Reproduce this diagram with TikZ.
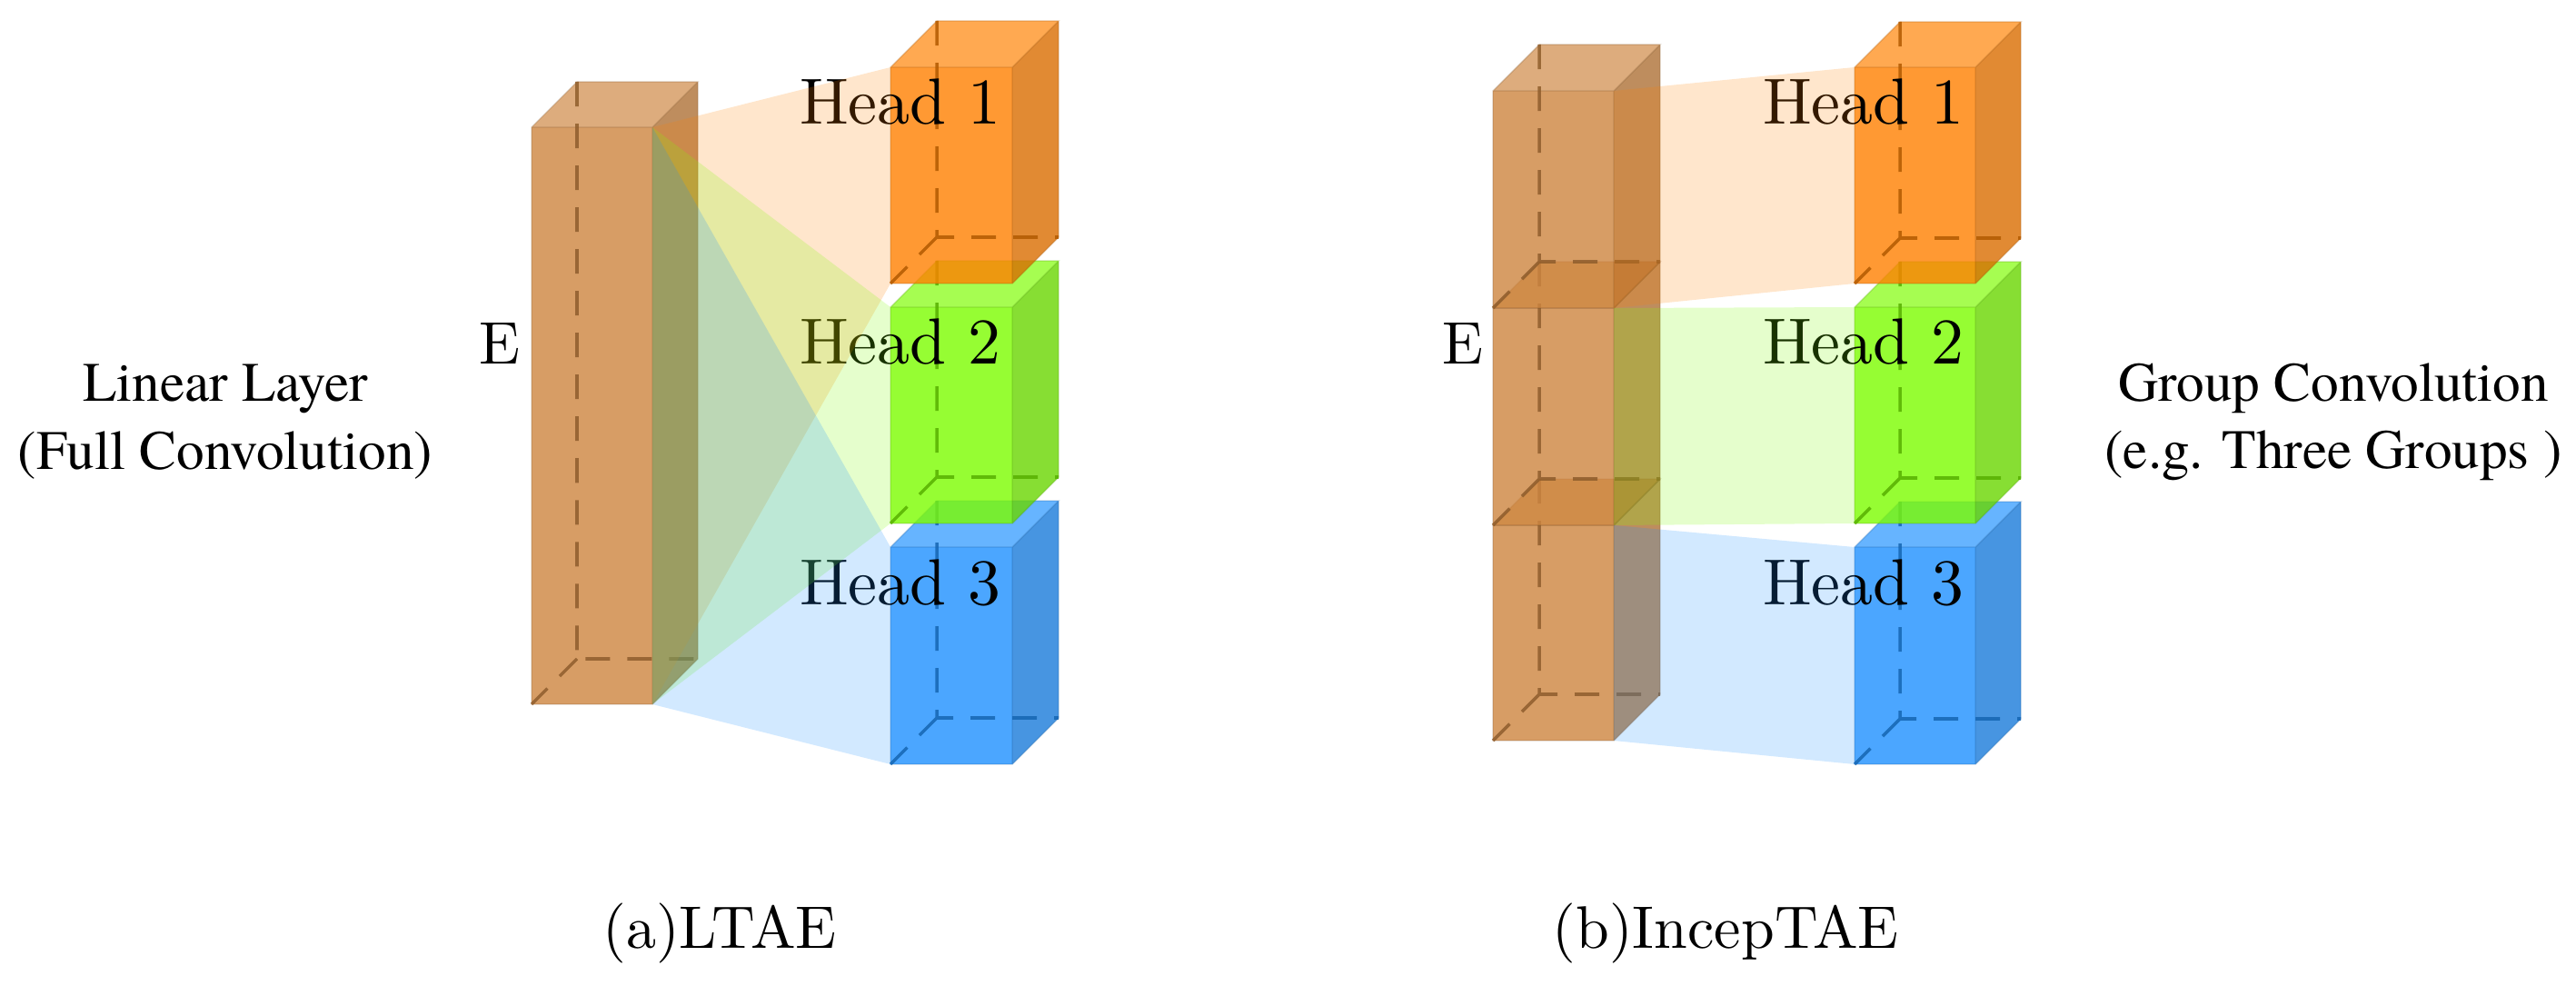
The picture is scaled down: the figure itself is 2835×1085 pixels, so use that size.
\documentclass[tikz,border=0pt]{standalone}
\usepackage{fontspec}
\newfontfamily\timesf{texgyretermes-regular.otf}
\newfontfamily\lmten{lmroman10-regular.otf}
\definecolor{cE}{RGB}{205,133,63}
\definecolor{cO}{RGB}{255,128,0}
\definecolor{cG}{RGB}{124,252,0}
\definecolor{cB}{RGB}{30,144,255}
% name, x (front left), y (front top), width, height, depth, colour
\newcommand{\cuboid}[7]{%
  \coordinate (#1-ftl) at (#2,#3);
  \coordinate (#1-ftr) at ({#2+#4},#3);
  \coordinate (#1-fbl) at (#2,{#3+#5});
  \coordinate (#1-fbr) at ({#2+#4},{#3+#5});
  \coordinate (#1-btl) at ({#2+#6},{#3-#6});
  \coordinate (#1-btr) at ({#2+#4+#6},{#3-#6});
  \coordinate (#1-bbl) at ({#2+#6},{#3+#5-#6});
  \coordinate (#1-bbr) at ({#2+#4+#6},{#3+#5-#6});
  \fill[#7, fill opacity=0.8] (#1-ftl) rectangle (#1-fbr);
  \fill[#7!85!white, fill opacity=0.8] (#1-ftl) -- (#1-btl) -- (#1-btr) -- (#1-ftr) -- cycle;
  \fill[#7!85!black, fill opacity=0.8] (#1-ftr) -- (#1-btr) -- (#1-bbr) -- (#1-fbr) -- cycle;
  \draw[boxedge, draw=#7!60!black] (#1-ftl) rectangle (#1-fbr)
     (#1-ftl) -- (#1-btl) -- (#1-btr) -- (#1-ftr) (#1-btr) -- (#1-bbr) -- (#1-fbr);
  \draw[hid, draw=#7!70!black] (#1-btl) -- (#1-bbl) -- (#1-bbr) (#1-bbl) -- (#1-fbl);
}
\begin{document}
\begin{tikzpicture}[x=0.01cm, y=-0.01cm,
  hid/.style={dash pattern=on 0.27cm off 0.19cm, line width=1pt, draw opacity=0.85},
  boxedge/.style={line width=0.4pt, draw opacity=0.25},
  fan/.style={fill opacity=0.2},
  headlbl/.style={anchor=base east, inner sep=0pt, font=\lmten\fontsize{20.4}{24}\selectfont},
  elbl/.style={anchor=base east, inner sep=0pt, font=\lmten\fontsize{18.8}{22}\selectfont},
  caplbl/.style={inner sep=0pt, font=\lmten\fontsize{18.8}{22}\selectfont},
  sidelbl/.style={anchor=base, inner sep=0pt, font=\timesf\fontsize{17.4}{21}\selectfont}]
\useasboundingbox (0,0) rectangle (2835,1085);

% ---------- (a) LTAE ----------
\cuboid{Ea}{585}{140}{133}{635}{50}{cE}
\cuboid{H3a}{980}{602}{134}{239}{51}{cB}
\cuboid{H2a}{980}{338}{134}{238}{51}{cG}
\cuboid{H1a}{980}{74}{134}{238}{51}{cO}

% ---------- (b) IncepTAE ----------
\cuboid{E3b}{1643}{578}{133}{237}{51}{cE}
\cuboid{E2b}{1643}{339}{133}{239}{51}{cE}
\cuboid{E1b}{1643}{100}{133}{239}{51}{cE}
\cuboid{H3b}{2041}{602}{133}{239}{50}{cB}
\cuboid{H2b}{2041}{338}{133}{238}{50}{cG}
\cuboid{H1b}{2041}{74}{133}{238}{50}{cO}

% ---------- labels ----------
\node[headlbl] (h1a) at (1102,137) {Head 1};
\node[headlbl] (h2a) at (1102,400) {Head 2};
\node[headlbl] (h3a) at (1102,665) {Head 3};
\node[headlbl] (h1b) at (2162,137) {Head 1};
\node[headlbl] (h2b) at (2162,400) {Head 2};
\node[headlbl] (h3b) at (2162,665) {Head 3};
\node[elbl] (ea) at (573,400) {E};
\node[elbl] (eb) at (1633,400) {E};

% ---------- fans ----------
\fill[fan, cO] (Ea-ftr) -- (H1a-ftl) -- (H1a-fbl) -- (Ea-fbr) -- cycle;
\fill[fan, cG] (Ea-ftr) -- (H2a-ftl) -- (H2a-fbl) -- (Ea-fbr) -- cycle;
\fill[fan, cB] (Ea-ftr) -- (H3a-ftl) -- (H3a-fbl) -- (Ea-fbr) -- cycle;

\fill[fan, cO] (E1b-ftr) -- (H1b-ftl) -- (H1b-fbl) -- (E1b-fbr) -- cycle;
\fill[fan, cG] (E2b-ftr) -- (H2b-ftl) -- (H2b-fbl) -- (E2b-fbr) -- cycle;
\fill[fan, cB] (E3b-ftr) -- (H3b-ftl) -- (H3b-fbl) -- (E3b-fbr) -- cycle;

% ---------- captions ----------
\node[caplbl, anchor=base] (capa) at (792,1043) {(a)LTAE};
\node[caplbl, anchor=base west] (capb) at (1708,1043) {(b)IncepTAE};

\node[sidelbl] (la1) at (248,442) {Linear Layer};
\node[sidelbl] (la2) at (248,516) {(Full Convolution)};
\node[sidelbl] (lb1) at (2568,442) {Group Convolution};
\node[sidelbl] (lb2) at (2568,515) {(e.g. Three Groups )};
\end{tikzpicture}
\end{document}
